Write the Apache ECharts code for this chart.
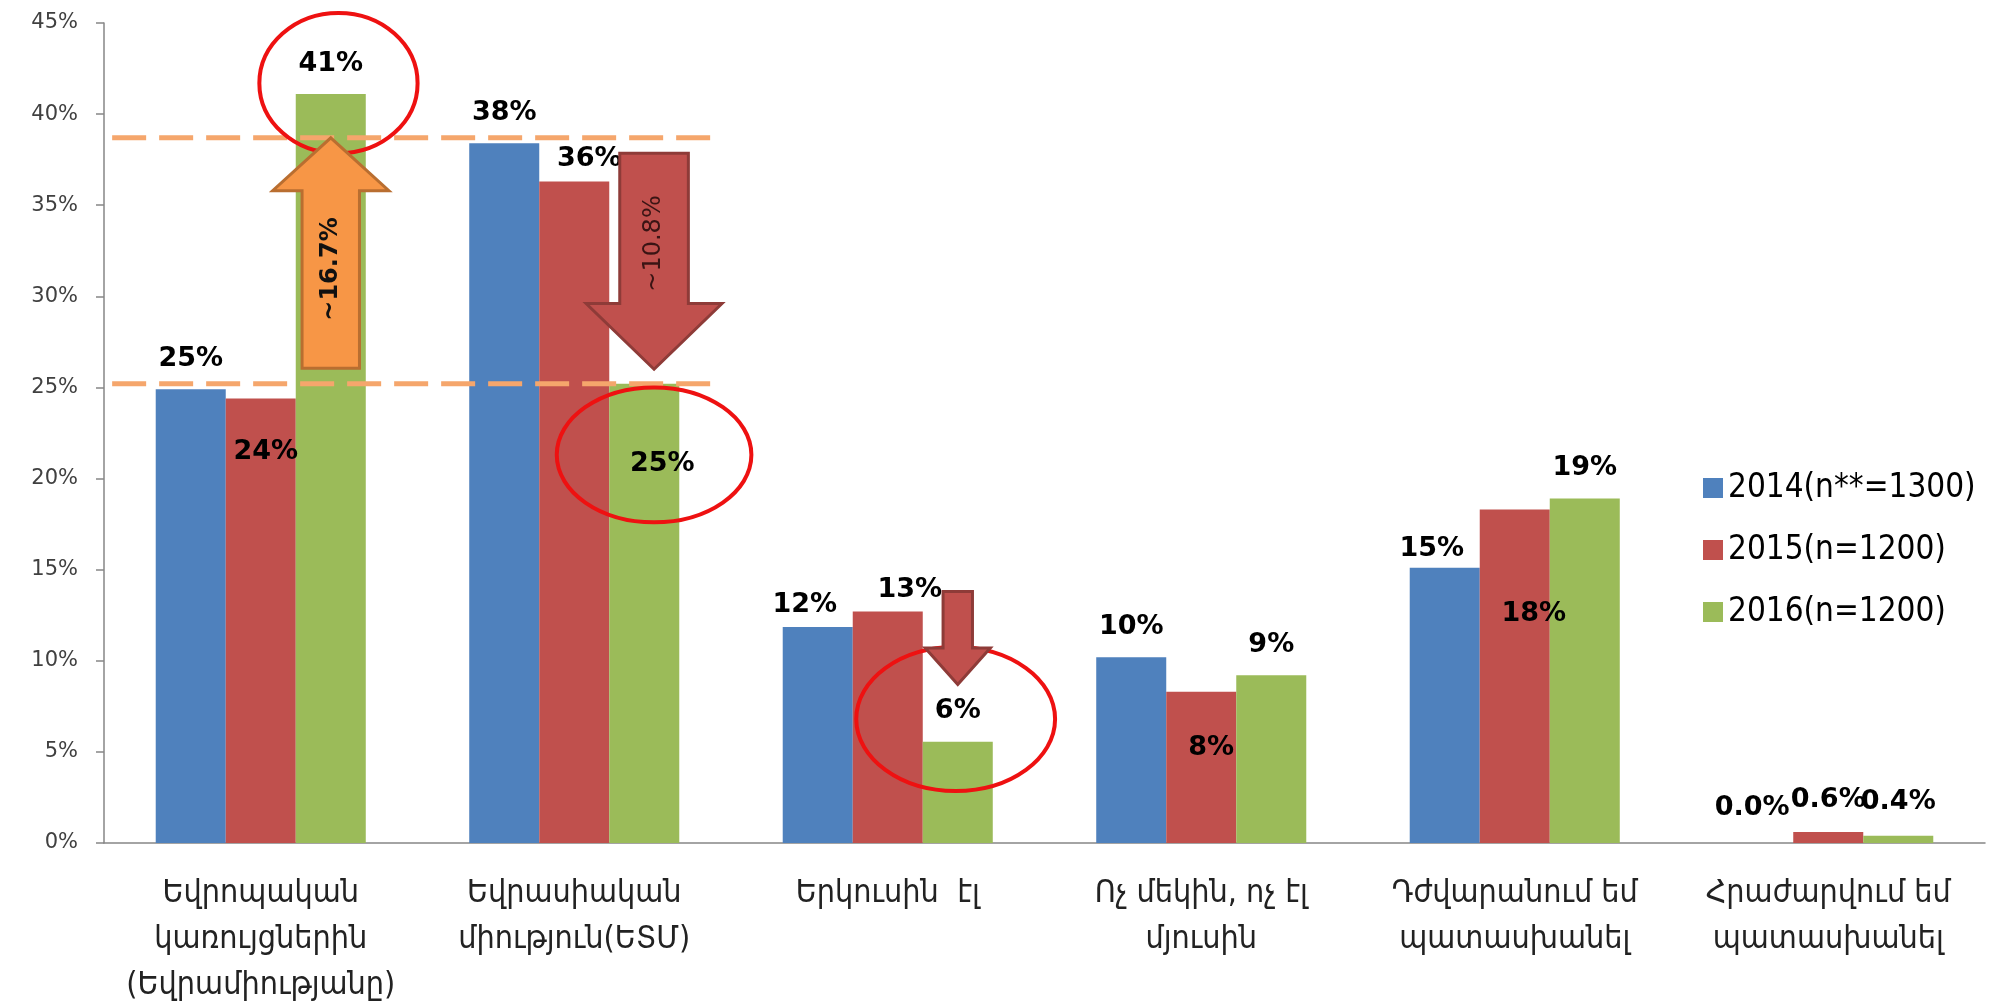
<!DOCTYPE html>
<html><head><meta charset="utf-8">
<script src="https://cdn.jsdelivr.net/npm/echarts@6/dist/echarts.min.js"></script>
<style>html,body{margin:0;padding:0;background:#fff}#c{width:1995px;height:1006px}</style>
</head><body><div id="c"></div>
<script>
// ---------- data ----------
const categories = [
  'Եվրոպական\nկառույցներին\n(Եվրամիությանը)',
  'Եվրասիական\nմիություն(ԵՏՄ)',
  'Երկուսին  էլ',
  'Ոչ մեկին, ոչ էլ\nմյուսին',
  'Դժվարանում եմ\nպատասխանել',
  'Հրաժարվում եմ\nպատասխանել'
];
const seriesNames = ['2014(n**=1300)', '2015(n=1200)', '2016(n=1200)'];
const values2014 = [24.9, 38.4, 11.85, 10.2, 15.1, 0];
const values2015 = [24.4, 36.3, 12.7, 8.3, 18.3, 0.6];
const values2016 = [41.1, 25.2, 5.55, 9.2, 18.9, 0.4];
const yMin = 0, yMax = 45, yStep = 5;
const refLevels = [38.7, 25.2];
const arrowTexts = ['~16.7%', '~10.8%'];

// ---------- styles ----------
const colors = ['#4F81BD', '#C0504D', '#9BBB59'];
const labelTweaks = [
  {2: {offset: [-13, 8]}, 4: {offset: [-13, 12]}, 5: {offset: [-6, -5]}},
  {0: {position: 'insideTop', distance: 5, offset: [5, 35]}, 1: {offset: [15, 8]}, 2: {offset: [22, 9]},
   3: {position: 'insideTop', distance: 5, offset: [10, 38]}, 4: {position: 'insideTop', distance: 5, offset: [19, 86]}, 5: {offset: [0, -2]}},
  {1: {position: 'insideTop', distance: 5, offset: [18, 62]}, 5: {offset: [0, -3]}}
];
function fmt(v) { return (v < 1 ? v.toFixed(1) : Math.round(v)) + '%'; }
const CAT_GAP = 0.33;
function makeSeries(name, vals, idx) {
  return {
    name: name, type: 'bar', barGap: '0%', barCategoryGap: (CAT_GAP * 100) + '%',
    itemStyle: {color: colors[idx]},
    label: {show: true, position: 'top', distance: 17, formatter: p => fmt(p.value),
      fontFamily: 'DejaVu Sans', fontWeight: 'bold', fontSize: 27, color: '#000'},
    data: vals.map((v, i) => {
      const t = labelTweaks[idx][i];
      return t ? {value: v, label: Object.assign({}, t)} : v;
    })
  };
}

const chart = echarts.init(document.getElementById('c'), null, {renderer: 'canvas'});
const option = {
  backgroundColor: '#fff',
  animation: false,
  grid: {left: 104, right: 10, top: 23, bottom: 163, containLabel: false, outerBoundsMode: 'none'},
  legend: {
    orient: 'vertical', left: 1698, top: 463, itemWidth: 20, itemHeight: 20, itemGap: 22, icon: 'rect',
    textStyle: {fontFamily: 'DejaVu Sans Condensed', fontSize: 33, color: '#000', lineHeight: 40},
    data: seriesNames
  },
  xAxis: {
    type: 'category', data: categories,
    axisLine: {lineStyle: {color: '#868686', width: 1.5}},
    axisTick: {length: 10, lineStyle: {color: '#868686', width: 1.5}},
    axisLabel: {interval: 0, fontFamily: 'DejaVu Sans Condensed', fontSize: 32, lineHeight: 46, color: '#222', margin: 28}
  },
  yAxis: {
    type: 'value', min: yMin, max: yMax, interval: yStep,
    axisLine: {show: true, lineStyle: {color: '#868686', width: 1.5}},
    axisTick: {show: true, length: 8, lineStyle: {color: '#868686', width: 1.5}},
    splitLine: {show: false},
    axisLabel: {formatter: '{value}%', fontFamily: 'DejaVu Sans', fontSize: 21, color: '#404040', margin: 26}
  },
  series: [
    makeSeries(seriesNames[0], values2014, 0),
    makeSeries(seriesNames[1], values2015, 1),
    makeSeries(seriesNames[2], values2016, 2)
  ]
};
chart.setOption(option);

// ---------- annotations positioned through the axes ----------
(function () {
  const x0 = chart.convertToPixel({xAxisIndex: 0}, 0);
  const cw = chart.convertToPixel({xAxisIndex: 0}, 1) - x0;
  const X = f => x0 + f * cw;
  const Y = v => chart.convertToPixel({yAxisIndex: 0}, v);
  const bw = (1 - CAT_GAP) / 3; // bar width in category units
  const g = [];
  refLevels.forEach(lv => g.push({
    type: 'line', z: 50,
    shape: {x1: X(-0.474), y1: Y(lv), x2: X(1.44), y2: Y(lv)},
    style: {stroke: '#F5A66C', lineWidth: 5, lineDash: [34, 13]}
  }));
  const ell = [
    {c: 0 + bw * 1.11, v: 41.7, rx: 1.13, ry: 3.85},
    {c: 1 + bw * 1.14, v: 21.3, rx: 1.39, ry: 3.7},
    {c: 2 + bw * 0.97, v: 6.8, rx: 1.42, ry: 3.95}
  ];
  ell.forEach(e => g.push({
    type: 'ellipse', z: 60,
    shape: {cx: X(e.c), cy: Y(e.v), rx: e.rx * bw * cw, ry: Y(e.v - e.ry) - Y(e.v)},
    style: {fill: 'none', stroke: '#EE1111', lineWidth: 4}
  }));
  function arrow(c, from, base, tip, sh, hh, fill, stroke) {
    const cx = X(c), s = sh * bw * cw, h = hh * bw * cw;
    return {
      type: 'polygon', z: 70,
      shape: {points: [[cx - s, Y(from)], [cx - s, Y(base)], [cx - h, Y(base)], [cx, Y(tip)],
        [cx + h, Y(base)], [cx + s, Y(base)], [cx + s, Y(from)]]},
      style: {fill: fill, stroke: stroke, lineWidth: 3, lineJoin: 'miter'}
    };
  }
  g.push(arrow(0 + bw, 26.05, 35.8, 38.7, 0.41, 0.83, '#F79646', '#B96E30'));
  g.push(arrow(1 + bw * 1.14, 37.85, 29.6, 26.0, 0.49, 0.97, '#C0504D', '#8E3B38'));
  g.push(arrow(2 + bw, 13.8, 10.7, 8.7, 0.21, 0.465, '#C0504D', '#8E3B38'));
  g.push({
    type: 'text', z: 80, x: X(0 + bw), y: Y(31.5), rotation: Math.PI / 2,
    style: {text: arrowTexts[0], fontFamily: 'DejaVu Sans', fontWeight: 'bold', fontSize: 24, fill: '#111',
      align: 'center', verticalAlign: 'middle', textAlign: 'center', textVerticalAlign: 'middle'}
  });
  g.push({
    type: 'text', z: 80, x: X(1 + bw * 1.14), y: Y(32.9), rotation: Math.PI / 2,
    style: {text: arrowTexts[1], fontFamily: 'DejaVu Sans', fontSize: 24, fill: '#3a1414',
      align: 'center', verticalAlign: 'middle', textAlign: 'center', textVerticalAlign: 'middle'}
  });
  chart.setOption({graphic: {elements: g}});
})();
</script>
</body></html>
